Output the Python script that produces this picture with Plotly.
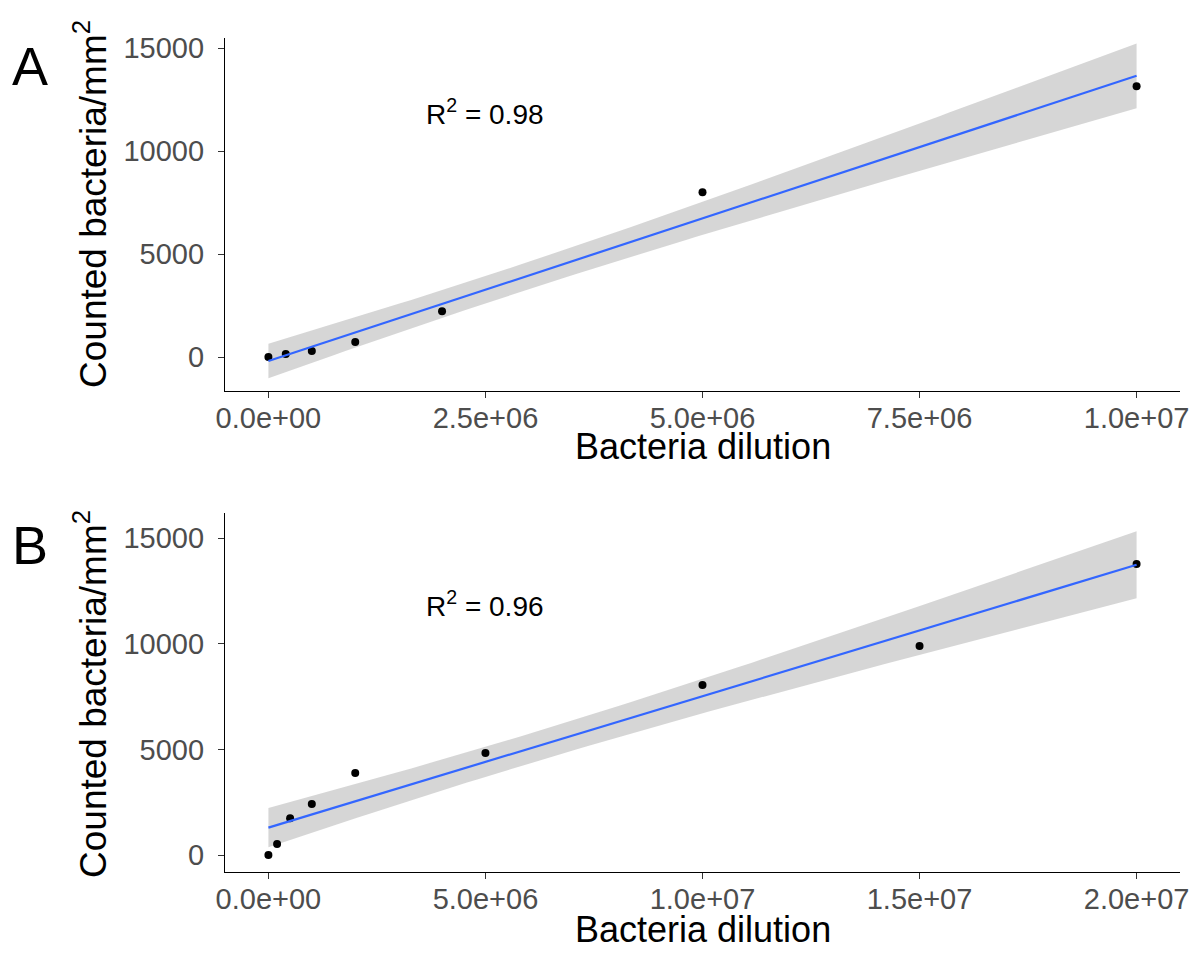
import numpy as np
import plotly.graph_objects as go

# ---------------- data ----------------
dilution_A = [0, 2e5, 5e5, 1e6, 2e6, 5e6, 1e7]
counted_A = [0, 146, 290, 730, 2230, 8010, 13150]

dilution_B = [0, 2e5, 5e5, 1e6, 2e6, 5e6, 1e7, 1.5e7, 2e7]
counted_B = [0, 520, 1750, 2420, 3890, 4830, 8060, 9900, 13780]

r2_A = "0.98"
r2_B = "0.96"

xtickvals_A = [0, 2.5e6, 5e6, 7.5e6, 1e7]
xticktext_A = ["0.0e+00", "2.5e+06", "5.0e+06", "7.5e+06", "1.0e+07"]
xtickvals_B = [0, 5e6, 1e7, 1.5e7, 2e7]
xticktext_B = ["0.0e+00", "5.0e+06", "1.0e+07", "1.5e+07", "2.0e+07"]
ytickvals = [0, 5000, 10000, 15000]
yticktext = ["0", "5000", "10000", "15000"]

# t quantiles (0.975) for df = n - 2
T975 = {5: 2.570582, 7: 2.364624}


def lm_band(x, y, npts=80):
    x = np.asarray(x, float)
    y = np.asarray(y, float)
    n = len(x)
    b, a = np.polyfit(x, y, 1)
    res = y - (a + b * x)
    s = np.sqrt(np.sum(res ** 2) / (n - 2))
    xm = x.mean()
    sxx = np.sum((x - xm) ** 2)
    xs = np.linspace(x.min(), x.max(), npts)
    fit = a + b * xs
    se = s * np.sqrt(1.0 / n + (xs - xm) ** 2 / sxx)
    t = T975[n - 2]
    return xs, fit, fit - t * se, fit + t * se


fig = go.Figure()

FONT = "Liberation Sans, Arial, sans-serif"
band_col = "rgba(153,153,153,0.4)"
line_col = "#3366FF"

panels = [
    (dilution_A, counted_A, "x", "y"),
    (dilution_B, counted_B, "x2", "y2"),
]
for xd, yd, xa, ya in panels:
    xs, fit, lo, hi = lm_band(xd, yd)
    fig.add_trace(go.Scatter(
        x=np.concatenate([xs, xs[::-1]]), y=np.concatenate([hi, lo[::-1]]),
        fill="toself", fillcolor=band_col, line=dict(width=0),
        mode="lines", hoverinfo="skip", showlegend=False, xaxis=xa, yaxis=ya))
    fig.add_trace(go.Scatter(
        x=xd, y=yd, mode="markers",
        marker=dict(color="black", size=8),
        showlegend=False, xaxis=xa, yaxis=ya))
    fig.add_trace(go.Scatter(
        x=xs, y=fit, mode="lines", line=dict(color=line_col, width=2.2),
        showlegend=False, xaxis=xa, yaxis=ya))

W, H = 1189, 960
xdom = [225 / W, 1180 / W]
ydom_A = [1 - 391 / H, 1 - 38 / H]
ydom_B = [1 - 872 / H, 1 - 513 / H]

axis_common = dict(
    showline=True, linecolor="black", linewidth=1.3, mirror=False,
    ticks="outside", ticklen=6, tickwidth=1.2, tickcolor="#333333",
    showgrid=False, zeroline=False, automargin=False,
    ticklabeloverflow="allow",
    tickfont=dict(family=FONT, size=29, color="#4D4D4D"),
)

fig.update_layout(
    width=W, height=H,
    margin=dict(l=0, r=0, t=0, b=0),
    paper_bgcolor="white", plot_bgcolor="white",
    xaxis=dict(domain=xdom, anchor="y", range=[-5e5, 1.05e7], ticklabelstandoff=-5,
               tickvals=xtickvals_A, ticktext=xticktext_A, **axis_common),
    yaxis=dict(domain=ydom_A, anchor="x", range=[-1650, 15500], ticklabelstandoff=8,
               tickvals=ytickvals, ticktext=yticktext, **axis_common),
    xaxis2=dict(domain=xdom, anchor="y2", range=[-1e6, 2.1e7], ticklabelstandoff=-5,
                tickvals=xtickvals_B, ticktext=xticktext_B, **axis_common),
    yaxis2=dict(domain=ydom_B, anchor="x2", range=[-800, 16200], ticklabelstandoff=8,
                tickvals=ytickvals, ticktext=yticktext, **axis_common),
)

title_font = dict(family=FONT, size=36, color="black")
ann = []
# x-axis titles
ann.append(dict(text="Bacteria dilution", x=(xdom[0] + xdom[1]) / 2, y=1 - 446 / H,
                xref="paper", yref="paper", showarrow=False, font=title_font,
                xanchor="center", yanchor="middle"))
ann.append(dict(text="Bacteria dilution", x=(xdom[0] + xdom[1]) / 2, y=1 - 929 / H,
                xref="paper", yref="paper", showarrow=False, font=title_font,
                xanchor="center", yanchor="middle"))
# y-axis titles
ytitle = "Counted bacteria/mm<sup>2</sup>"
ann.append(dict(text=ytitle, x=90 / W, y=1 - 204 / H, textangle=-90,
                xref="paper", yref="paper", showarrow=False,
                font=dict(family=FONT, size=37, color="black"),
                xanchor="center", yanchor="middle"))
ann.append(dict(text=ytitle, x=90 / W, y=1 - 694 / H, textangle=-90,
                xref="paper", yref="paper", showarrow=False,
                font=dict(family=FONT, size=37, color="black"),
                xanchor="center", yanchor="middle"))
# panel letters
ann.append(dict(text="A", x=30 / W, y=1 - 66 / H, xref="paper", yref="paper",
                showarrow=False, font=dict(family=FONT, size=54, color="black"),
                xanchor="center", yanchor="middle"))
ann.append(dict(text="B", x=30 / W, y=1 - 545 / H, xref="paper", yref="paper",
                showarrow=False, font=dict(family=FONT, size=54, color="black"),
                xanchor="center", yanchor="middle"))
# R^2 labels
r2_font = dict(family=FONT, size=28, color="black")
ann.append(dict(text="R<sup>2</sup> = " + r2_A, x=2.5e6, y=11900, xref="x", yref="y",
                showarrow=False, font=r2_font, xanchor="center", yanchor="middle"))
ann.append(dict(text="R<sup>2</sup> = " + r2_B, x=5e6, y=11900, xref="x2", yref="y2",
                showarrow=False, font=r2_font, xanchor="center", yanchor="middle"))

fig.update_layout(annotations=ann)
fig.write_html("out.html")
